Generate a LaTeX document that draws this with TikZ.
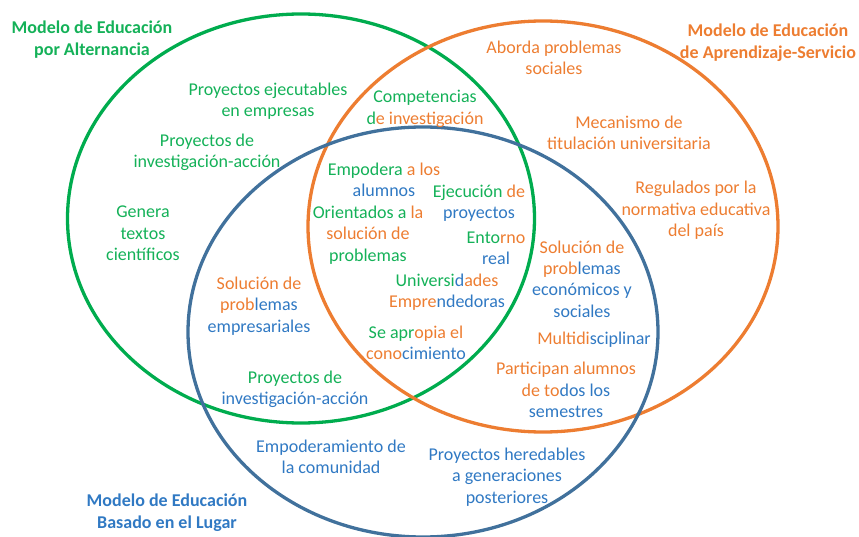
\documentclass[tikz,border=0pt]{standalone}
\usepackage{fontspec}
\setmainfont{Carlito}
\definecolor{gL}{RGB}{0,172,78}
\definecolor{oL}{HTML}{ED7D31}
\definecolor{bL}{HTML}{41719C}
\definecolor{gT}{HTML}{14B158}
\definecolor{oT}{HTML}{ED7D31}
\definecolor{bT}{HTML}{3079C3}
\newcommand\gtx[1]{\textcolor{gT}{#1}}
\newcommand\otx[1]{\textcolor{oT}{#1}}
\newcommand\btx[1]{\textcolor{bT}{#1}}
\tikzset{
  ring/.style={line width=3.3pt},
  lbl/.style={align=center, inner sep=0pt, yshift=-1.5pt, font=\fontsize{18}{21.3}\selectfont},
  ttl/.style={align=center, inner sep=0pt, yshift=-1.5pt, font=\fontsize{18}{21.8}\selectfont\bfseries},
}
\begin{document}
\begin{tikzpicture}[x=1pt,y=-1pt]
\useasboundingbox (0,0) rectangle (859,537);
% circles
\draw[ring, gL] (301,218.5) ellipse [x radius=233.5pt, y radius=204.5pt];
\draw[ring, oL] (543,226.5) ellipse [x radius=235pt, y radius=205.5pt];
\draw[ring, bL] (423,332) ellipse [x radius=235pt, y radius=205pt];
% titles
\node[ttl, text=gT] (tA) at (92,38.5) {Modelo de Educación\\por Alternancia};
\node[ttl, text=oT] (tS) at (768,41) {Modelo de Educación\\de Aprendizaje-Servicio};
\node[ttl, text=bT] (tL) at (167,511) {Modelo de Educación\\Basado en el Lugar};
% green only
\node[lbl, text=gT] (g1) at (268,99.5) {Proyectos ejecutables\\en empresas};
\node[lbl, text=gT] (g2) at (207,150.5) {Proyectos de\\investigación-acción};
\node[lbl, text=gT] (g3) at (143,232) {Genera\\textos\\científicos};
% orange only
\node[lbl, text=oT] (o1) at (554,56) {Aborda problemas\\sociales};
\node[lbl, text=oT] (o2) at (629,131.5) {Mecanismo de\\titulación universitaria};
\node[lbl, text=oT] (o3) at (696,209) {Regulados por la\\normativa educativa\\del país};
% green and orange
\node[lbl] (go1) at (425,107.5) {\gtx{Competencias}\\\gtx{d}\otx{e investigación}};
% all three
\node[lbl] (c1) at (384,178) {\gtx{Empodera }\otx{a los}\\\btx{alumnos}};
\node[lbl] (c2) at (368,233.5) {\gtx{Orientados a }\otx{la}\\\otx{solución de}\\\gtx{problemas}};
\node[lbl] (c3) at (479,201.5) {\gtx{Ejecución }\otx{de}\\\btx{proyectos}};
\node[lbl] (c4) at (496,246.5) {\gtx{Ento}\otx{rno}\\\btx{real}};
\node[lbl] (c5) at (447,291) {\gtx{Universi}\btx{d}\otx{ades}\\\otx{Empre}\btx{ndedoras}};
\node[lbl] (c6) at (416,341) {\gtx{Se apr}\otx{opia el}\\\otx{cono}\btx{cimiento}};
% orange and blue
\node[lbl] (ob1) at (582,277.5) {\otx{Solución de}\\\otx{prob}\btx{lemas}\\\btx{económicos y}\\\btx{sociales}};
\node[lbl] (ob2) at (594,338) {\otx{Multidi}\btx{sciplinar}};
\node[lbl] (ob3) at (566,388.5) {\otx{Participan alumnos}\\\otx{de to}\btx{dos los}\\\btx{semestres}};
% green and blue
\node[lbl] (gb1) at (259,304.5) {\otx{Solución de}\\\otx{prob}\btx{lemas}\\\btx{empresariales}};
\node[lbl] (gb2) at (295,387.5) {\gtx{Proyectos de}\\\btx{investigación-acción}};
% blue only
\node[lbl, text=bT] (b1) at (331,455.5) {Empoderamiento de\\la comunidad};
\node[lbl, text=bT] (b2) at (507,475.5) {Proyectos heredables\\a generaciones\\posteriores};
\end{tikzpicture}
\end{document}
